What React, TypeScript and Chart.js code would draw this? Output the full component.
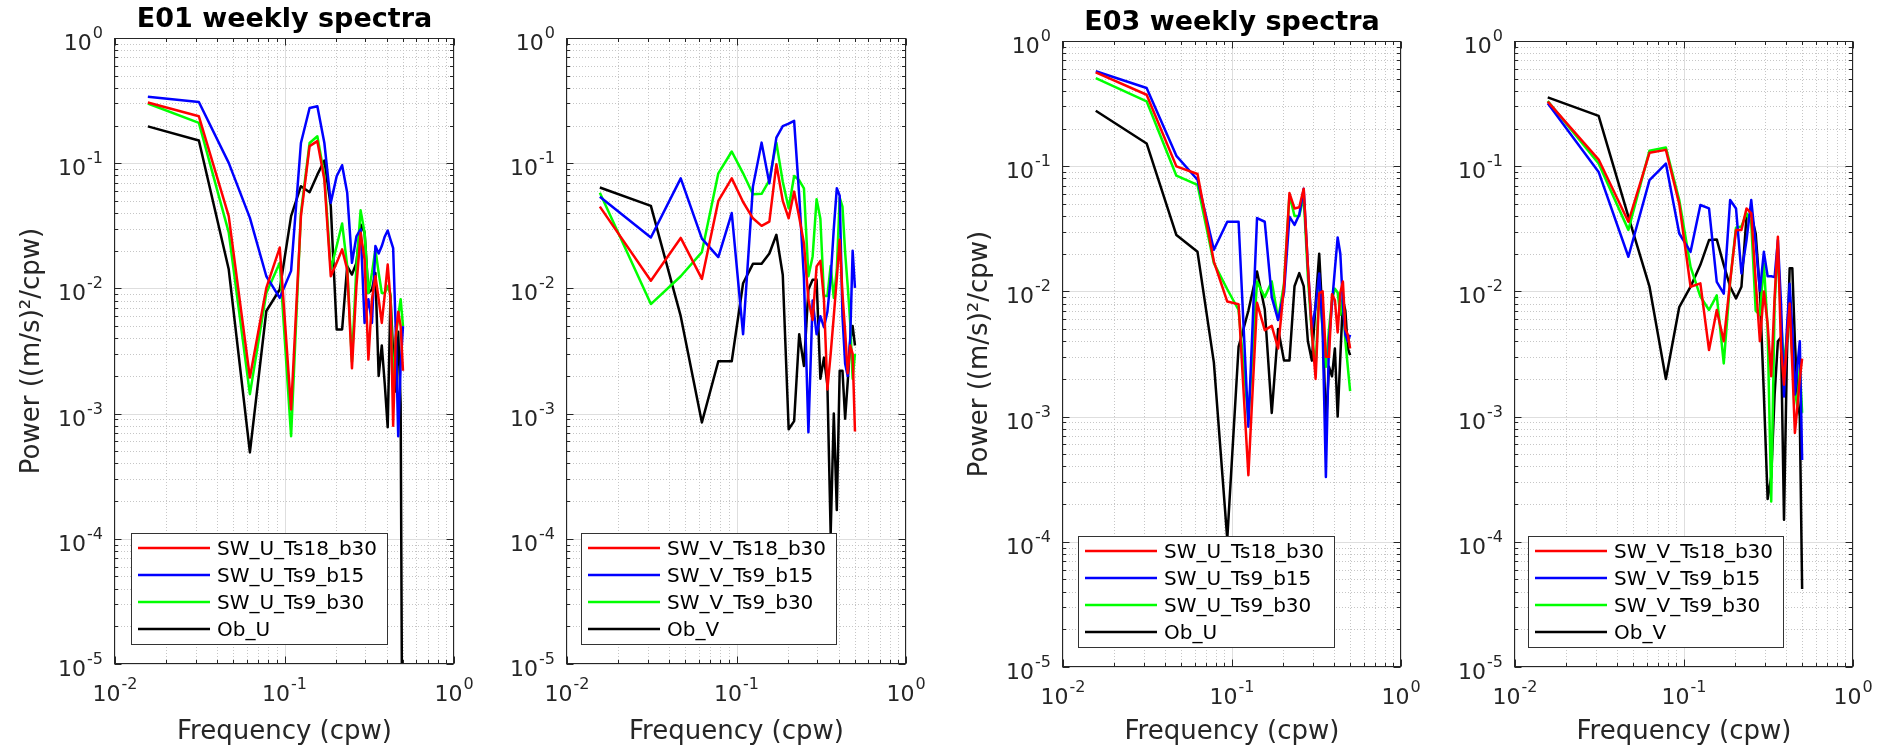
import React, { useEffect, useRef } from 'react';
import { Chart, registerables } from 'chart.js';

Chart.register(...registerables);
Chart.defaults.font.family = "'DejaVu Sans', sans-serif";

// ---------- data ----------
const FREQ = [
  0.015625, 0.03125, 0.046875, 0.0625, 0.078125, 0.09375, 0.109375, 0.125,
  0.140625, 0.15625, 0.171875, 0.1875, 0.203125, 0.21875, 0.234375, 0.25,
  0.265625, 0.28125, 0.296875, 0.3125, 0.328125, 0.34375, 0.359375, 0.375,
  0.390625, 0.40625, 0.421875, 0.4375, 0.453125, 0.46875, 0.484375, 0.5,
];

const TICK_BASE = '10';
const X_TICK_VALUES = [0.01, 0.1, 1];
const X_TICK_EXPONENTS = ['-2', '-1', '0'];
const Y_TICK_VALUES = [1e-5, 1e-4, 1e-3, 1e-2, 1e-1, 1];
const Y_TICK_EXPONENTS = ['-5', '-4', '-3', '-2', '-1', '0'];
const MINOR_MULTIPLIERS = [2, 3, 4, 5, 6, 7, 8, 9];

const U_LABELS = ['SW_U_Ts18_b30', 'SW_U_Ts9_b15', 'SW_U_Ts9_b30', 'Ob_U'];
const V_LABELS = ['SW_V_Ts18_b30', 'SW_V_Ts9_b15', 'SW_V_Ts9_b30', 'Ob_V'];
const SERIES_COLORS = ['#ff0000', '#0000ff', '#00ff00', '#000000'];

// E01, U component
const E01_U_TS18_B30 = [0.305, 0.237, 0.0378, 0.00194, 0.0101, 0.0212, 0.00108, 0.0378, 0.137, 0.15, 0.074, 0.0125, 0.016, 0.0205, 0.0142, 0.0023, 0.0104, 0.0278, 0.017, 0.0027, 0.0082, 0.0125, 0.0082, 0.0053, 0.009, 0.0155, 0.0082, 0.0008, 0.004, 0.0065, 0.005, 0.0022];
const E01_U_TS9_B15 = [0.34, 0.308, 0.1006, 0.0366, 0.0125, 0.0084, 0.0138, 0.145, 0.276, 0.285, 0.145, 0.0483, 0.0787, 0.0964, 0.058, 0.016, 0.026, 0.0296, 0.0053, 0.0082, 0.0053, 0.0218, 0.019, 0.0218, 0.026, 0.029, 0.0245, 0.021, 0.0047, 0.00066, 0.0024, 0.005];
const E01_U_TS9_B30 = [0.3, 0.21, 0.028, 0.00143, 0.0092, 0.016, 0.00066, 0.04, 0.145, 0.164, 0.079, 0.0142, 0.0218, 0.033, 0.0151, 0.0026, 0.015, 0.042, 0.0278, 0.0092, 0.0133, 0.0205, 0.0133, 0.0092, 0.0092, 0.0104, 0.009, 0.00156, 0.004, 0.006, 0.0082, 0.005];
const E01_OB_U = [0.197, 0.152, 0.0142, 0.00049, 0.0066, 0.0098, 0.0378, 0.0655, 0.0587, 0.081, 0.105, 0.0454, 0.0047, 0.0047, 0.0151, 0.0129, 0.016, 0.0324, 0.028, 0.0092, 0.0098, 0.0133, 0.002, 0.0035, 0.0017, 0.00078, 0.0087, 0.003, 0.0015, 0.0045, 0.0012, 1e-7];

// E01, V component
const E01_V_TS18_B30 = [0.045, 0.0115, 0.0253, 0.0119, 0.05, 0.0757, 0.049, 0.0363, 0.0316, 0.0342, 0.098, 0.05, 0.0363, 0.0593, 0.037, 0.023, 0.0081, 0.0056, 0.015, 0.0166, 0.0081, 0.00156, 0.003, 0.006, 0.012, 0.0245, 0.009, 0.0045, 0.0021, 0.0035, 0.003, 0.00072];
const E01_V_TS9_B15 = [0.054, 0.0255, 0.0757, 0.025, 0.0178, 0.04, 0.0043, 0.065, 0.146, 0.069, 0.16, 0.198, 0.207, 0.218, 0.055, 0.012, 0.00071, 0.008, 0.0043, 0.006, 0.0049, 0.0065, 0.012, 0.03, 0.063, 0.055, 0.006, 0.0025, 0.002, 0.004, 0.02, 0.0101];
const E01_V_TS9_B30 = [0.058, 0.0075, 0.0125, 0.0195, 0.083, 0.124, 0.083, 0.0565, 0.057, 0.073, 0.146, 0.071, 0.0437, 0.079, 0.073, 0.063, 0.0125, 0.018, 0.0515, 0.036, 0.0087, 0.0087, 0.0151, 0.0084, 0.0141, 0.053, 0.045, 0.0193, 0.0104, 0.0053, 0.0019, 0.003];
const E01_OB_V = [0.064, 0.0456, 0.006, 0.00085, 0.00262, 0.00262, 0.011, 0.0157, 0.0157, 0.019, 0.0268, 0.0128, 0.00075, 0.00087, 0.0043, 0.0024, 0.0098, 0.0117, 0.0117, 0.0019, 0.0028, 0.0017, 0.00011, 0.001, 0.00017, 0.0022, 0.0022, 0.00091, 0.0018, 0.0038, 0.005, 0.0035];

// E03, U component
const E03_U_TS18_B30 = [0.562, 0.372, 0.0997, 0.0866, 0.0173, 0.0083, 0.0079, 0.00034, 0.0081, 0.0049, 0.0053, 0.0035, 0.011, 0.061, 0.046, 0.047, 0.066, 0.0158, 0.0047, 0.002, 0.0097, 0.01, 0.003, 0.003, 0.0095, 0.0085, 0.0047, 0.0098, 0.012, 0.005, 0.0045, 0.0035];
const E03_U_TS9_B15 = [0.573, 0.421, 0.121, 0.078, 0.0215, 0.036, 0.036, 0.00083, 0.0385, 0.036, 0.009, 0.0059, 0.0098, 0.0395, 0.034, 0.041, 0.066, 0.0158, 0.005, 0.0076, 0.0139, 0.005, 0.00033, 0.004, 0.008, 0.015, 0.027, 0.02, 0.008, 0.0045, 0.004, 0.0045];
const E03_U_TS9_B30 = [0.506, 0.33, 0.084, 0.071, 0.0168, 0.0104, 0.0071, 0.00095, 0.012, 0.009, 0.012, 0.006, 0.0115, 0.059, 0.04, 0.04, 0.057, 0.013, 0.0045, 0.0025, 0.0106, 0.005, 0.0025, 0.005, 0.0085, 0.0105, 0.0098, 0.0065, 0.009, 0.004, 0.0025, 0.0016];
const E03_OB_U = [0.277, 0.152, 0.0282, 0.0207, 0.0027, 0.000105, 0.0036, 0.007, 0.0144, 0.0072, 0.00107, 0.005, 0.0028, 0.0028, 0.011, 0.014, 0.011, 0.004, 0.0028, 0.008, 0.02, 0.006, 0.00083, 0.0025, 0.0021, 0.0035, 0.001, 0.003, 0.0085, 0.007, 0.0035, 0.0031];

// E03, V component
const E03_V_TS18_B30 = [0.328, 0.113, 0.036, 0.128, 0.135, 0.05, 0.0109, 0.0116, 0.0034, 0.0071, 0.004, 0.012, 0.031, 0.031, 0.046, 0.042, 0.012, 0.004, 0.01, 0.0055, 0.0021, 0.009, 0.0273, 0.0035, 0.0018, 0.004, 0.008, 0.0025, 0.00074, 0.0012, 0.002, 0.0029];
const E03_V_TS9_B15 = [0.318, 0.09, 0.0189, 0.0775, 0.105, 0.029, 0.0207, 0.049, 0.046, 0.0119, 0.0096, 0.0537, 0.046, 0.0139, 0.0257, 0.0537, 0.024, 0.0101, 0.0207, 0.0132, 0.0132, 0.013, 0.0257, 0.008, 0.00145, 0.005, 0.0115, 0.005, 0.0015, 0.0025, 0.004, 0.00045];
const E03_V_TS9_B30 = [0.332, 0.105, 0.031, 0.133, 0.141, 0.0537, 0.0157, 0.0091, 0.0071, 0.0093, 0.00266, 0.012, 0.0323, 0.033, 0.042, 0.035, 0.007, 0.0065, 0.0167, 0.005, 0.00021, 0.008, 0.022, 0.006, 0.0025, 0.0045, 0.0065, 0.003, 0.0016, 0.0012, 0.0025, 0.00107];
const E03_OB_V = [0.355, 0.252, 0.0395, 0.0109, 0.002, 0.0075, 0.0109, 0.0163, 0.0257, 0.026, 0.0163, 0.0109, 0.0088, 0.0109, 0.0395, 0.041, 0.029, 0.01, 0.0015, 0.00022, 0.00033, 0.0015, 0.004, 0.0043, 0.00015, 0.003, 0.0153, 0.0153, 0.004, 0.0015, 0.001, 0.000042];

// ---------- layout ----------
const PAGE_W = 1879;
const PAGE_H = 746;
const PAD_L = 115;
const PAD_R = 40;
const AXIS_COLOR = '#262626';
const FONT = "'DejaVu Sans', sans-serif";

type PanelCfg = {
  title: string;
  yTitle: boolean;
  labels: string[];
  series: number[][];
  left: number; right: number; top: number; bottom: number;
  legendDx: number;
};

const PANELS: PanelCfg[] = [
  { title: 'E01 weekly spectra', yTitle: true, labels: U_LABELS, series: [E01_U_TS18_B30, E01_U_TS9_B15, E01_U_TS9_B30, E01_OB_U], left: 115, right: 454, top: 38, bottom: 664, legendDx: 16 },
  { title: '', yTitle: false, labels: V_LABELS, series: [E01_V_TS18_B30, E01_V_TS9_B15, E01_V_TS9_B30, E01_OB_V], left: 567, right: 906, top: 38, bottom: 664, legendDx: 14 },
  { title: 'E03 weekly spectra', yTitle: true, labels: U_LABELS, series: [E03_U_TS18_B30, E03_U_TS9_B15, E03_U_TS9_B30, E03_OB_U], left: 1063, right: 1401, top: 41, bottom: 667, legendDx: 15 },
  { title: '', yTitle: false, labels: V_LABELS, series: [E03_V_TS18_B30, E03_V_TS9_B15, E03_V_TS9_B30, E03_OB_V], left: 1515, right: 1853, top: 41, bottom: 667, legendDx: 13 },
];

function gridValues(decades: number[]) {
  const major: number[] = [];
  const minor: number[] = [];
  decades.forEach((d, i) => {
    major.push(d);
    if (i < decades.length - 1) MINOR_MULTIPLIERS.forEach((m) => minor.push(m * d));
  });
  return { major, minor };
}

function drawPower(ctx: CanvasRenderingContext2D, exp: string, x: number, baseY: number, align: 'right' | 'center') {
  ctx.font = `22px ${FONT}`;
  const wb = ctx.measureText(TICK_BASE).width;
  ctx.font = `16px ${FONT}`;
  const we = ctx.measureText(exp).width;
  const total = wb + 1 + we;
  const x0 = align === 'right' ? x - total : x - total / 2;
  ctx.textAlign = 'left';
  ctx.textBaseline = 'alphabetic';
  ctx.fillStyle = AXIS_COLOR;
  ctx.font = `22px ${FONT}`;
  ctx.fillText(TICK_BASE, x0, baseY);
  ctx.font = `16px ${FONT}`;
  ctx.fillText(exp, x0 + wb + 1, baseY - 12);
}

const matlabAxes = {
  id: 'matlabAxes',
  beforeDatasetsDraw(chart: any) {
    const { ctx, chartArea: ca, scales } = chart;
    const xg = gridValues(X_TICK_VALUES);
    const yg = gridValues(Y_TICK_VALUES);
    ctx.save();
    ctx.lineWidth = 1;
    const vline = (v: number) => {
      const p = Math.round(scales.x.getPixelForValue(v)) + 0.5;
      ctx.beginPath(); ctx.moveTo(p, ca.top); ctx.lineTo(p, ca.bottom); ctx.stroke();
    };
    const hline = (v: number) => {
      const p = Math.round(scales.y.getPixelForValue(v)) + 0.5;
      ctx.beginPath(); ctx.moveTo(ca.left, p); ctx.lineTo(ca.right, p); ctx.stroke();
    };
    ctx.strokeStyle = '#c6c6c6';
    ctx.setLineDash([1, 2]);
    xg.minor.forEach(vline);
    yg.minor.forEach(hline);
    ctx.setLineDash([]);
    ctx.strokeStyle = '#dedede';
    xg.major.forEach(vline);
    yg.major.forEach(hline);
    ctx.restore();
  },
  afterDatasetsDraw(chart: any) {
    const { ctx, chartArea: ca, scales } = chart;
    const xg = gridValues(X_TICK_VALUES);
    const yg = gridValues(Y_TICK_VALUES);
    ctx.save();
    ctx.strokeStyle = AXIS_COLOR;
    ctx.lineWidth = 1;
    const L = Math.round(ca.left) - 0.5;
    const R = Math.round(ca.right) - 0.5;
    const T = Math.round(ca.top) + 0.5;
    const B = Math.round(ca.bottom) - 0.5;
    ctx.strokeRect(L, T, R - L, B - T);
    const xt = (v: number, len: number) => {
      const p = Math.round(scales.x.getPixelForValue(v)) + 0.5;
      ctx.beginPath();
      ctx.moveTo(p, B); ctx.lineTo(p, B - len);
      ctx.moveTo(p, T); ctx.lineTo(p, T + len);
      ctx.stroke();
    };
    const yt = (v: number, len: number) => {
      const p = Math.round(scales.y.getPixelForValue(v)) + 0.5;
      ctx.beginPath();
      ctx.moveTo(L, p); ctx.lineTo(L + len, p);
      ctx.moveTo(R, p); ctx.lineTo(R - len, p);
      ctx.stroke();
    };
    xg.minor.forEach((v) => xt(v, 3.5));
    xg.major.forEach((v) => xt(v, 7));
    yg.minor.forEach((v) => yt(v, 3.5));
    yg.major.forEach((v) => yt(v, 7));

    // tick labels (10 with raised exponent), placed through the chart's scales
    X_TICK_VALUES.forEach((v, i) => {
      const px = scales.x.getPixelForValue(v);
      drawPower(ctx, X_TICK_EXPONENTS[i], px, ca.bottom + 37, 'center');
    });
    Y_TICK_VALUES.forEach((v, i) => {
      const py = scales.y.getPixelForValue(v);
      drawPower(ctx, Y_TICK_EXPONENTS[i], ca.left - 12, py + 12, 'right');
    });
    ctx.restore();
  },
  afterDraw(chart: any, _args: any, opts: any) {
    const { ctx, chartArea: ca } = chart;
    const datasets = chart.data.datasets;
    ctx.save();
    ctx.font = `20px ${FONT}`;
    let maxW = 0;
    datasets.forEach((d: any) => { maxW = Math.max(maxW, ctx.measureText(d.label).width); });
    const lx = Math.round(ca.left + (opts.legendDx || 15));
    const ly = Math.round(ca.bottom - 131);
    const w = Math.round(86 + maxW + 10);
    const h = 111;
    ctx.fillStyle = '#ffffff';
    ctx.fillRect(lx, ly, w, h);
    ctx.strokeStyle = '#333333';
    ctx.lineWidth = 1;
    ctx.strokeRect(lx + 0.5, ly + 0.5, w, h);
    datasets.forEach((d: any, i: number) => {
      const y = ly + 15 + 27 * i;
      ctx.strokeStyle = d.borderColor;
      ctx.lineWidth = 2.5;
      ctx.beginPath(); ctx.moveTo(lx + 7, y); ctx.lineTo(lx + 79, y); ctx.stroke();
      ctx.fillStyle = '#000000';
      ctx.textBaseline = 'middle';
      ctx.textAlign = 'left';
      ctx.fillText(d.label, lx + 86, y + 2);
    });
    ctx.restore();
  },
};

function Panel({ cfg }: { cfg: PanelCfg }) {
  const ref = useRef<HTMLCanvasElement>(null);
  const width = PAD_L + (cfg.right - cfg.left) + PAD_R;
  useEffect(() => {
    const canvas = ref.current;
    if (!canvas) return;
    const titleSize = 27;
    const titleLH = 1.2;
    const tPadTop = 3.5;
    const tPadBottom = 2.1;
    const titleBlock = titleSize * titleLH + tPadTop + tPadBottom;
    const layoutTop = cfg.title ? cfg.top - titleBlock : cfg.top;
    const chart = new Chart(canvas, {
      type: 'line',
      data: {
        datasets: cfg.series.map((vals, i) => ({
          label: cfg.labels[i],
          data: FREQ.map((f, j) => ({ x: f, y: vals[j] })),
          borderColor: SERIES_COLORS[i],
          backgroundColor: SERIES_COLORS[i],
          borderWidth: 2.5,
          borderJoinStyle: 'round',
          pointRadius: 0,
          tension: 0,
          fill: false,
        })),
      },
      options: {
        responsive: false,
        animation: false,
        devicePixelRatio: 1,
        events: [],
        layout: { padding: { left: 0, right: PAD_R, top: layoutTop, bottom: 0 } },
        plugins: {
          legend: { display: false },
          tooltip: { enabled: false },
          title: {
            display: !!cfg.title,
            text: cfg.title,
            fullSize: false,
            color: '#000000',
            font: { size: titleSize, weight: 'bold', lineHeight: titleLH },
            padding: { top: tPadTop, bottom: tPadBottom },
          },
          matlabAxes: { legendDx: cfg.legendDx },
        } as any,
        scales: {
          x: {
            type: 'logarithmic',
            position: 'bottom',
            min: 0.01,
            max: 1,
            grid: { display: false, drawTicks: false },
            border: { display: false },
            ticks: { display: false, autoSkip: false },
            title: {
              display: true,
              text: 'Frequency (cpw)',
              color: AXIS_COLOR,
              font: { size: 26, lineHeight: 1 },
              padding: { top: 0, bottom: 1 },
            },
            afterFit: (s: any) => { s.height = PAGE_H - cfg.bottom; },
          },
          y: {
            type: 'logarithmic',
            position: 'left',
            min: 1e-5,
            max: 1,
            grid: { display: false, drawTicks: false },
            border: { display: false },
            ticks: { display: false, autoSkip: false },
            title: {
              display: cfg.yTitle,
              text: 'Power ((m/s)²/cpw)',
              color: AXIS_COLOR,
              font: { size: 26, lineHeight: 1 },
              padding: { top: 19, bottom: 0 },
            },
            afterFit: (s: any) => { s.width = PAD_L; },
          },
        },
      } as any,
      plugins: [matlabAxes as any],
    });
    return () => chart.destroy();
  }, [cfg]);
  return (
    <canvas
      ref={ref}
      width={width}
      height={PAGE_H}
      style={{ position: 'absolute', left: cfg.left - PAD_L, top: 0, width, height: PAGE_H }}
    />
  );
}

export default function App() {
  return (
    <div style={{ position: 'fixed', left: 0, top: 0, width: PAGE_W, height: PAGE_H, background: '#ffffff', overflow: 'hidden' }}>
      {PANELS.map((p, i) => (
        <Panel key={i} cfg={p} />
      ))}
    </div>
  );
}
